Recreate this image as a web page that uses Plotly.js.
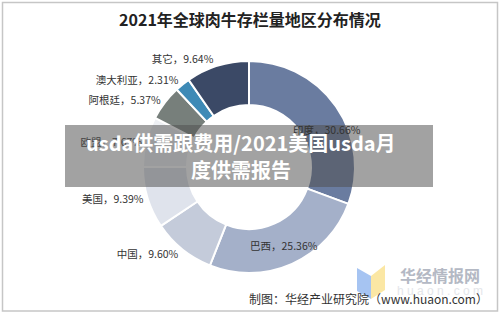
<!DOCTYPE html>
<html>
<head>
<meta charset="utf-8">
<script src="https://cdn.plot.ly/plotly-3.0.1.min.js"></script>
<style>
  html, body { margin: 0; padding: 0; background: #ffffff; }
  #chart { width: 500px; height: 314px; }
</style>
</head>
<body>
<div id="chart"></div>
<script>
// 2021年全球肉牛存栏量地区分布（%）
const regions = ['印度', '巴西', '中国', '美国', '欧盟', '阿根廷', '澳大利亚', '其它'];
const shares = [30.66, 25.36, 9.60, 9.39, 7.67, 5.37, 2.31, 9.64];
const sliceColors = ['#6a7ca0', '#a4b0c9', '#c4cbda', '#dfe3ec', '#eef0f4', '#777f7b', '#3e8ab6', '#3b4966'];
// regions whose label sits on the ring itself
const ringLabelled = ['印度', '巴西'];

const W = 500, H = 314;
const px = x => x / W;
const py = y => 1 - y / H;

// donut geometry (pixels)
const cx = 249, cy = 167, outerR = 106, holeFrac = 0.585;
const midR = outerR * (1 + holeFrac) / 2 + 2;

const cjk = '"Noto Sans CJK SC", "Noto Sans", sans-serif';
const labelFont = { family: cjk, size: 10.5, color: '#333333' };
const fmt = (name, v) => `${name}，${v.toFixed(2)}%`;

const trace = {
  type: 'pie',
  labels: regions,
  values: shares,
  sort: false,
  direction: 'clockwise',
  rotation: 0,
  hole: holeFrac,
  domain: { x: [px(cx - outerR), px(cx + outerR)], y: [py(cy + outerR), py(cy - outerR)] },
  marker: { colors: sliceColors, line: { color: '#ffffff', width: 2 } },
  text: regions.map((r, i) => ringLabelled.includes(r) ? '' : fmt(r, shares[i])),
  textinfo: 'text',
  textposition: 'outside',
  textfont: labelFont,
  outsidetextfont: labelFont,
  showlegend: false,
  hoverinfo: 'label+value'
};

// labels on the ring, placed at each slice's mid-angle
const total = shares.reduce((a, b) => a + b, 0);
const ringAnnotations = [];
let cum = 0;
regions.forEach((r, i) => {
  const theta = (cum + shares[i] / 2) / total * 2 * Math.PI;
  cum += shares[i];
  if (!ringLabelled.includes(r)) return;
  const ann = {
    text: fmt(r, shares[i]), xref: 'paper', yref: 'paper',
    x: px(cx + midR * Math.sin(theta)), y: py(cy - midR * Math.cos(theta)),
    xanchor: 'center', yanchor: 'middle', showarrow: false, font: labelFont
  };
  if (r === '印度') { ann.xshift = 7; ann.yshift = -12; }
  ringAnnotations.push(ann);
});

const layout = {
  width: W,
  height: H,
  margin: { l: 0, r: 0, t: 0, b: 0 },
  paper_bgcolor: '#ffffff',
  title: {
    text: '<b>2021年全球肉牛存栏量地区分布情况</b>',
    font: { family: cjk, size: 16, color: '#222222' },
    x: 0.5, xanchor: 'center',
    y: py(20), yanchor: 'middle'
  },
  shapes: [
    // outer frame
    { type: 'rect', xref: 'paper', yref: 'paper', x0: px(2.5), x1: px(497.5), y0: py(311), y1: py(2.5),
      line: { color: '#c6c6c6', width: 1.5 }, fillcolor: 'rgba(0,0,0,0)', layer: 'above' },
    // logo: two book pages
    { type: 'path', xref: 'paper', yref: 'paper', layer: 'above',
      path: `M ${px(357)} ${py(268)} L ${px(371)} ${py(276)} L ${px(371)} ${py(299)} L ${px(357)} ${py(291)} Z`,
      fillcolor: '#a6c4f2', line: { width: 0 } },
    { type: 'path', xref: 'paper', yref: 'paper', layer: 'above',
      path: `M ${px(371)} ${py(276)} L ${px(385)} ${py(265)} L ${px(385)} ${py(290)} L ${px(371)} ${py(299)} Z`,
      fillcolor: '#fbe7a4', line: { width: 0 } },
    // banner strip
    { type: 'rect', xref: 'paper', yref: 'paper', x0: px(65), x1: px(433), y0: py(187), y1: py(125),
      fillcolor: 'rgba(80,80,80,0.53)', line: { width: 0 }, layer: 'above' }
  ],
  annotations: ringAnnotations.concat([
    { text: '华经情报网', xref: 'paper', yref: 'paper', x: px(440), y: py(275),
      xanchor: 'center', yanchor: 'middle', showarrow: false,
      font: { family: cjk, size: 16, color: '#b4b9c4', weight: 700 } },
    { text: 'h u a o n . c o m', xref: 'paper', yref: 'paper', x: px(440), y: py(291),
      xanchor: 'center', yanchor: 'middle', showarrow: false,
      font: { family: 'Arial, sans-serif', size: 12, color: '#e4e6ea' } },
    { text: '制图：华经产业研究院（www.huaon.com）', xref: 'paper', yref: 'paper', x: px(490), y: py(298),
      xanchor: 'right', yanchor: 'middle', showarrow: false,
      font: { family: cjk, size: 12, color: '#333333' } },
    { text: '<b>usda供需跟费用/2021美国usda月</b>', xref: 'paper', yref: 'paper', x: px(241), y: py(142),
      xanchor: 'center', yanchor: 'middle', showarrow: false,
      font: { family: cjk, size: 20, color: '#ffffff' } },
    { text: '<b>度供需报告</b>', xref: 'paper', yref: 'paper', x: px(241), y: py(169),
      xanchor: 'center', yanchor: 'middle', showarrow: false,
      font: { family: cjk, size: 20, color: '#ffffff' } }
  ])
};

Plotly.newPlot('chart', [trace], layout, { displayModeBar: false, staticPlot: true });
</script>
</body>
</html>
